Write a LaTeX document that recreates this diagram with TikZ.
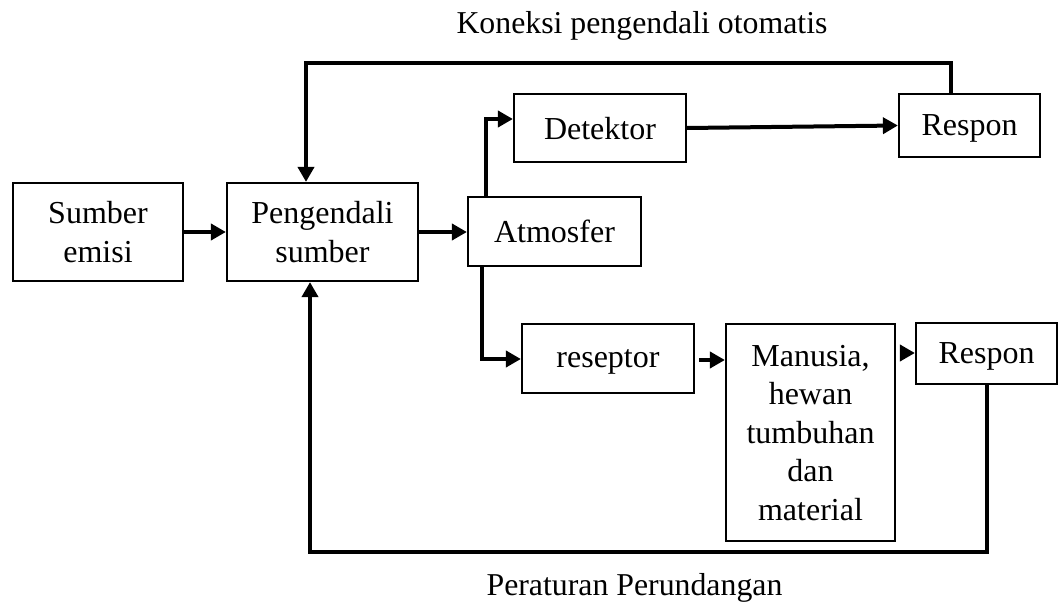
\documentclass[tikz,border=0pt]{standalone}
\usepackage{fontspec}
\setmainfont{Liberation Serif}
\usetikzlibrary{arrows.meta}
\begin{document}
\begin{tikzpicture}[x=1pt,y=-1pt,
  box/.style={draw, line width=2.2pt, inner sep=0pt, align=center, text depth=0pt,
    font=\fontsize{32}{38.5}\selectfont},
  conn/.style={line width=4pt, -{Triangle[length=15pt,width=16pt]}},
  lbl/.style={inner sep=0pt, anchor=base, font=\fontsize{31.8}{38.5}\selectfont}]
\useasboundingbox[fill=white] (0,0) rectangle (1060,607);
% boxes
\node[box, minimum width=170pt, minimum height=98pt] (sumber) at (98,232) {Sumber\\emisi};
\node[box, minimum width=191pt, minimum height=98pt] (peng) at (322.5,232) {Pengendali\\sumber};
\node[box, minimum width=173pt, minimum height=69pt] (atm) at (554.5,231.5) {Atmosfer};
\node[box, minimum width=172pt, minimum height=68pt] (det) at (600,128) {Detektor};
\node[box, minimum width=141pt, minimum height=63pt] (resp1) at (969.5,125.5) {Respon};
\node[box, minimum width=172pt, minimum height=69pt] (resep) at (608,358.5) {reseptor};
\node[box, minimum width=169pt, minimum height=217pt] (manusia) at (810.5,432.5) {Manusia,\\hewan\\tumbuhan\\dan\\material};
\node[box, minimum width=141pt, minimum height=61pt] (resp2) at (986.5,353.5) {Respon};
% labels
\node[lbl] (ltop) at (642,34) {Koneksi pengendali otomatis};
\node[lbl] (lbot) at (634.5,595) {Peraturan Perundangan};
% corner coordinates
\coordinate (tl) at (306,63);
\coordinate (tr) at (951,63);
\coordinate (bl) at (310,552);
\coordinate (br) at (986.5,552);
\coordinate (au) at (486,119);
\coordinate (ad) at (482,359);
\coordinate (rs) at (699,360);
\coordinate (ms) at (900,353);
% connectors
\draw[conn] (sumber.east) -- (peng.west);
\draw[conn] (peng.east) -- (peng.east -| atm.west);
\draw[conn] (resp1.north -| tr) -- (tr) -- (tl) -- (peng.north -| tl);
\draw[conn] (resp2.south) -- (br) -- (bl) -- (peng.south -| bl);
\draw[conn] (atm.north -| au) -- (au) -- (au -| det.west);
\draw[conn] (atm.south -| ad) -- (ad) -- (ad -| resep.west);
\draw[conn] (rs) -- (rs -| manusia.west);
\draw[conn] (ms) -- (ms -| resp2.west);
\draw[conn] (det.east) -- (resp1.west);
\end{tikzpicture}
\end{document}
